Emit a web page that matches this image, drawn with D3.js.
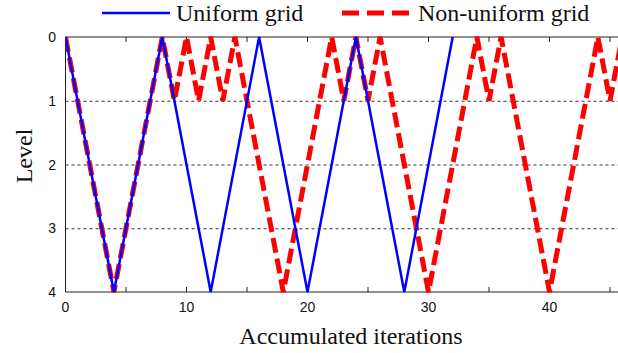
<!DOCTYPE html>
<html><head><meta charset="utf-8">
<script src="https://cdn.jsdelivr.net/npm/d3@7"></script>
<style>body{margin:0;background:#fff}svg{display:block}
.serif{font-family:"Liberation Serif","Times New Roman","DejaVu Serif",serif}
.sans{font-family:"Liberation Sans",Arial,sans-serif}
</style>
</head><body>
<svg id="c" width="618" height="353"></svg>
<script>
const uniformX = [0, 4, 8, 12, 16, 20, 24, 28, 32];
const uniformLevel = [0, 4, 0, 4, 0, 4, 0, 4, 0];
const nonUniformX = [0, 4, 8, 9, 10, 11, 12, 13, 14, 18, 22, 23, 24, 25, 26, 30, 34, 35, 36, 40, 44, 45, 46];
const nonUniformLevel = [0, 4, 0, 1, 0, 1, 0, 1, 0, 4, 0, 1, 0, 1, 0, 4, 0, 1, 0, 4, 0, 1, 0];
const xTicks = [0, 5, 10, 15, 20, 25, 30, 35, 40, 45];
const xTickLabels = [0, 10, 20, 30, 40];
const yTicks = [0, 1, 2, 3, 4];
const gridLevels = [1, 2, 3];
const seriesNames = ["Uniform grid", "Non-uniform grid"];

const svg = d3.select("#c");
const L = 65.5, T = 37, B = 292;
const x = d3.scaleLinear().domain([0, 46]).range([L, L + 46 * 12.1]);
const y = d3.scaleLinear().domain([0, 4]).range([T, B]);

svg.append("defs").append("clipPath").attr("id", "clip")
  .append("rect").attr("x", L).attr("y", 0).attr("width", 618 - L).attr("height", 353);

// grid
svg.append("g").selectAll("line").data(gridLevels).enter().append("line")
  .attr("x1", L).attr("x2", 618).attr("y1", d => y(d) + 0.5).attr("y2", d => y(d) + 0.5)
  .attr("stroke", "#333").attr("stroke-width", 1).attr("stroke-dasharray", "3,3");

// spines
const axisG = svg.append("g");
axisG.append("line").attr("x1", L).attr("x2", 618).attr("y1", T).attr("y2", T).attr("stroke", "#222");
axisG.append("line").attr("x1", L).attr("x2", 618).attr("y1", B).attr("y2", B).attr("stroke", "#222");
axisG.append("line").attr("x1", L).attr("x2", L).attr("y1", T).attr("y2", B).attr("stroke", "#222");
// ticks inward
axisG.selectAll(".tt").data(xTicks).enter().append("line")
  .attr("x1", d => x(d)).attr("x2", d => x(d)).attr("y1", T).attr("y2", T + 5).attr("stroke", "#222");
axisG.selectAll(".tb").data(xTicks).enter().append("line")
  .attr("x1", d => x(d)).attr("x2", d => x(d)).attr("y1", B).attr("y2", B - 5).attr("stroke", "#222");

// tick labels
axisG.selectAll(".xl").data(xTickLabels).enter().append("text").attr("class", "sans")
  .attr("x", d => x(d)).attr("y", 312).attr("text-anchor", "middle")
  .attr("font-size", 14).attr("fill", "#111")
  .text(d => d);
axisG.selectAll(".yl").data(yTicks).enter().append("text").attr("class", "sans")
  .attr("x", 56).attr("y", d => y(d) + 5).attr("text-anchor", "end")
  .attr("font-size", 14).attr("fill", "#111")
  .text(d => d);

// lines
const lineGen = d3.line().x(d => x(d[0])).y(d => y(d[1]));
const cl = svg.append("g").attr("clip-path", "url(#clip)");
cl.append("path").datum(nonUniformX.map((v, i) => [v, nonUniformLevel[i]]))
  .attr("d", lineGen).attr("fill", "none").attr("stroke", "#ff0000").attr("stroke-width", 5)
  .attr("stroke-dasharray", "15,6").attr("stroke-linejoin", "miter");
cl.append("path").datum(uniformX.map((v, i) => [v, uniformLevel[i]]))
  .attr("d", lineGen).attr("fill", "none").attr("stroke", "#0000ff").attr("stroke-width", 2.5)
  .attr("stroke-linejoin", "miter");

// axis titles
svg.append("text").attr("class", "serif").attr("x", 351).attr("y", 344).attr("text-anchor", "middle")
  .attr("font-size", 24).attr("fill", "#111")
  .text("Accumulated iterations");
svg.append("text").attr("class", "serif").attr("transform", "translate(32,156) rotate(-90)").attr("text-anchor", "middle")
  .attr("font-size", 24).attr("fill", "#111")
  .text("Level");

// legend
const lg = svg.append("g");
lg.append("line").attr("x1", 102).attr("x2", 170).attr("y1", 13).attr("y2", 13)
  .attr("stroke", "#0000ff").attr("stroke-width", 2.5);
lg.append("text").attr("class", "serif").attr("x", 176).attr("y", 21)
  .attr("font-size", 24).attr("fill", "#111").text(seriesNames[0]);
lg.append("line").attr("x1", 342).attr("x2", 410).attr("y1", 13).attr("y2", 13)
  .attr("stroke", "#ff0000").attr("stroke-width", 5).attr("stroke-dasharray", "17,8");
lg.append("text").attr("class", "serif").attr("x", 418).attr("y", 21)
  .attr("font-size", 24).attr("fill", "#111").text(seriesNames[1]);
</script>
</body></html>
